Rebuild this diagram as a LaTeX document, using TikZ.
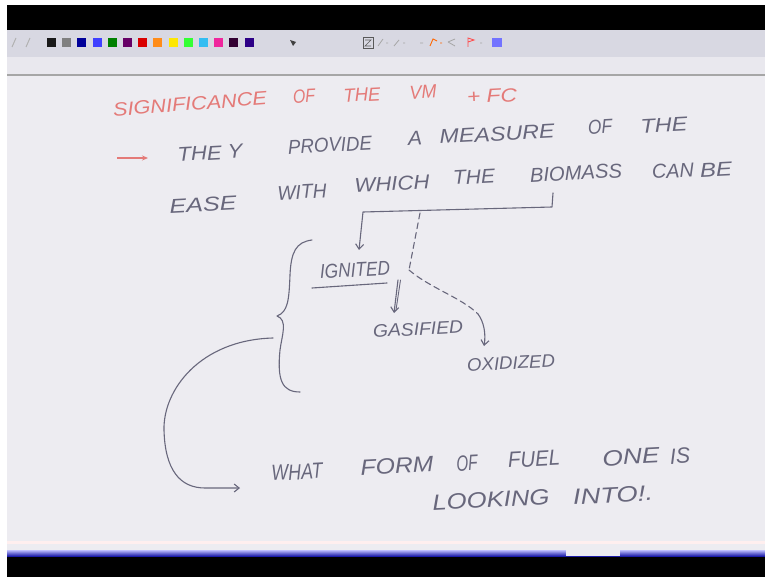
\documentclass[tikz,border=0pt]{standalone}
\usepackage{fontspec}
\usepackage{graphicx}
\setmainfont{Liberation Sans}
\usetikzlibrary{arrows.meta,calc}
\definecolor{ink}{HTML}{68677C}
\definecolor{redink}{HTML}{E47A78}
\definecolor{pagebg}{HTML}{EDECF1}
\definecolor{toolbg}{HTML}{D8D8E2}
\definecolor{bandbg}{HTML}{E9E8EE}
\newcommand\hwbox[2]{\resizebox{#1pt}{\height}{#2}}
\tikzset{
  hw/.style={font=\fontsize{20}{20}\selectfont\itshape, text=ink, inner sep=0pt, rotate=3},
  hwbig/.style={font=\fontsize{22}{22}\selectfont\itshape, text=ink, inner sep=0pt, rotate=3},
  hwtitle/.style={font=\fontsize{19}{19}\selectfont\itshape, text=redink, inner sep=0pt, rotate=3},
  hwsmall/.style={font=\fontsize{18}{18}\selectfont\itshape, text=ink, inner sep=0pt, rotate=3},
  pen/.style={draw=ink, line width=1.1pt, line cap=round, line join=round},
  headarrow/.style={-{Straight Barb[length=5pt,width=8pt,line width=1.1pt]}},
  dashline/.style={dash pattern=on 6pt off 4pt},
  swatch/.style={minimum width=9pt, minimum height=9pt, inner sep=0pt, draw=none}
}
\begin{document}
\begin{tikzpicture}[x=1pt,y=-1pt]
\useasboundingbox (0,0) rectangle (765,577);
% screen frame
\fill[white] (0,0) rectangle (765,577);
\fill[black] (7,5) rectangle (765,30);
\fill[toolbg] (7,30) rectangle (765,57);
\fill[bandbg] (7,57) rectangle (765,74);
\fill[gray!70] (7,74) rectangle (765,76);
\fill[pagebg] (7,76) rectangle (765,550);
\fill[pink!25] (7,541) rectangle (765,544);
\shade[top color=blue!25, bottom color=blue!60!black] (7,550) rectangle (765,557);
\fill[pagebg] (566,550) rectangle (620,556);
\fill[black] (7,557) rectangle (765,577);
% toolbar
\draw[gray!60, line width=1pt] (12,47) -- (16,38) (26,47) -- (30,38);
\foreach \c [count=\i from 0] in {{black!90},{gray},{blue!60!black},{blue!75},{green!50!black},{violet!80!black},{red!85!black},{orange!90},{yellow!90!orange},{green!80},{cyan!80},{magenta!85},{violet!40!black},{blue!50!violet!70!black}} {
  \node[swatch, fill=\c] (sw\i) at ({51.5+15.2*\i},42.5) {};
}
\fill[black!75] (290,40) -- (296,42) -- (293,46) -- cycle;
\draw[gray!70!black, line width=0.7pt] (363,37) rectangle (373,48);
\draw[gray!70!black, line width=0.7pt] (365,40) -- (371,40) -- (365,46) -- (371,46);
\draw[gray!70, line width=0.8pt] (378,46) -- (383,39) (386,43) -- (388,43)
  (394,46) -- (399,40) (403,43) -- (405,43)
  (420,43) -- (423,43);
\draw[orange!80!red, line width=0.9pt] (430,46) -- (433,39) -- (437,41) (440,43) -- (442,43);
\draw[red!70, line width=0.9pt] (468,47) -- (468,38) -- (474,40) -- (468,42);
\draw[gray!70, line width=0.8pt] (448,42) -- (455,39) (448,42) -- (455,46) (480,43) -- (482,43);
\fill[blue!55] (492,38) rectangle (502,47);
% title
\node[hwtitle, rotate=1.5] (t1) at (190,104) {\hwbox{154}{SIGNIFICANCE}};
\node[hwtitle] (t2) at (304,96) {\hwbox{22}{OF}};
\node[hwtitle] (t3) at (362,95) {\hwbox{37}{THE}};
\node[hwtitle] (t4) at (423,92) {\hwbox{27}{VM}};
\node[hwtitle] (t5) at (492,96) {\hwbox{50}{+ FC}};
% line 2
\coordinate (ra) at (117,158);
\coordinate (rb) at (148,158);
\draw[redink, line width=1.1pt, -{Stealth[length=6pt,width=5pt]}] (ra) -- (rb);
\node[hw] (l2a) at (210,153) {\hwbox{65}{THE Y}};
\node[hw] (l2b) at (330,145) {\hwbox{84}{PROVIDE}};
\node[hw] (l2c) at (415,138) {\hwbox{14}{A}};
\node[hw] (l2d) at (497,134) {\hwbox{115}{MEASURE}};
\node[hw] (l2e) at (600,127) {\hwbox{24}{OF}};
\node[hw] (l2f) at (664,125) {\hwbox{47}{THE}};
% line 3
\node[hw] (l3a) at (203,205) {\hwbox{67}{EASE}};
\node[hw] (l3b) at (302,192) {\hwbox{49}{WITH}};
\node[hw] (l3c) at (392,184) {\hwbox{75}{WHICH}};
\node[hw] (l3d) at (474,177) {\hwbox{42}{THE}};
\node[hw] (bio) at (576,173) {\hwbox{92}{BIOMASS}};
\node[hw] (l3f) at (673,171) {\hwbox{42}{CAN}};
\node[hw] (l3g) at (716,170) {\hwbox{32}{BE}};
% outcomes
\node[hw] (ign) at (355,270) {\hwbox{70}{IGNITED}};
\node[hwsmall] (gas) at (418,329) {\hwbox{90}{GASIFIED}};
\node[hwsmall] (oxi) at (511,363) {\hwbox{88}{OXIDIZED}};
% bracket from BIOMASS
\coordinate (b1) at (553,193);
\coordinate (b2) at (552,207);
\coordinate (b3) at (363,212);
\coordinate (b4) at (359,250);
\draw[pen, headarrow] (b1) -- (b2) -- (b3) -- (b4);
\coordinate (u1) at (312,288);
\coordinate (u2) at (387,283);
\draw[pen] (u1) -- (u2);
% dashed branch
\coordinate (d1) at (420,213);
\coordinate (d2) at (409,270);
\coordinate (d3) at (478,314);
\coordinate (d4) at (484,346);
\draw[pen, dashline] (d1) -- (d2);
\draw[pen, dashline] (d2) .. controls (430,288) and (462,298) .. (d3);
\draw[pen, headarrow] (d3) .. controls (484,322) and (486,334) .. (d4);
% double arrow to GASIFIED
\coordinate (g1) at (398,280);
\coordinate (g2) at (394,313);
\draw[pen, line width=0.9pt] ($(g1)+(2.5,0)$) -- ($(g2)+(2,-3)$);
\draw[pen, headarrow] (g1) -- (g2);
% brace
\draw[pen] (312,240) .. controls (296,242) and (291,252) .. (290,275)
  .. controls (289,300) and (288,312) .. (277,316)
  .. controls (288,320) and (282,335) .. (280,350)
  .. controls (277,380) and (282,392) .. (300,392);
% curved arrow to WHAT
\coordinate (c1) at (273,338);
\coordinate (c2) at (240,488);
\draw[pen, headarrow] (c1) .. controls (200,340) and (163,390) .. (164,430)
  .. controls (165,470) and (180,488) .. (205,488) -- (c2);
% last lines
\node[hwbig] (w1) at (297,472) {\hwbox{51}{WHAT}};
\node[hwbig] (w2) at (397,466) {\hwbox{73}{FORM}};
\node[hwbig] (w3) at (467,463) {\hwbox{21}{OF}};
\node[hwbig] (w4) at (534,459) {\hwbox{52}{FUEL}};
\node[hwbig] (w5) at (631,457) {\hwbox{57}{ONE}};
\node[hwbig] (w6) at (680,456) {\hwbox{20}{IS}};
\node[hwbig] (w7) at (491,500) {\hwbox{117}{LOOKING}};
\node[hwbig] (w8) at (613,495) {\hwbox{80}{INTO!.}};
\end{tikzpicture}
\end{document}
